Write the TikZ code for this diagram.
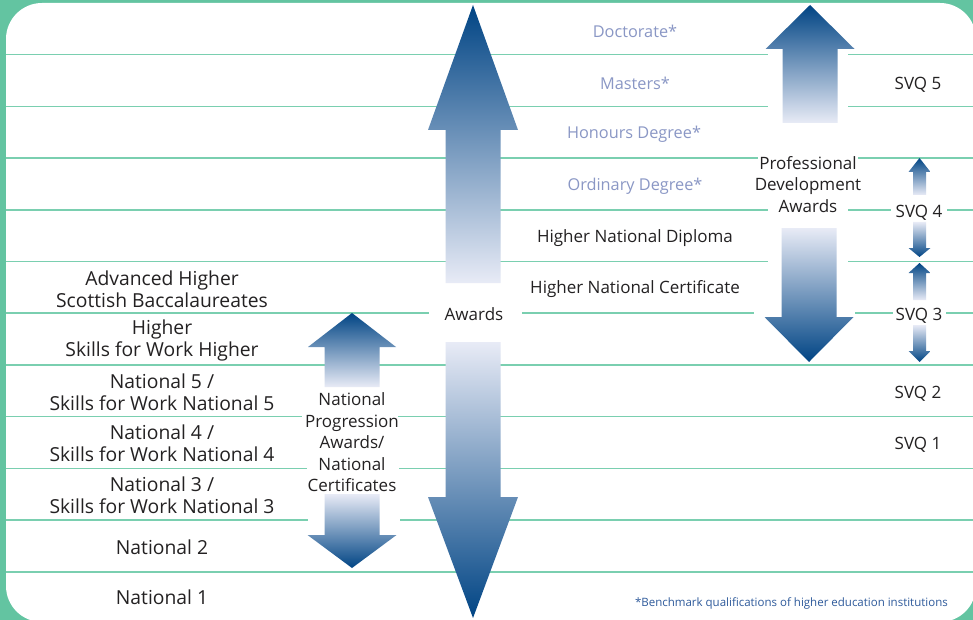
\documentclass[tikz,border=0pt]{standalone}
\usepackage{fontspec}
\setmainfont{Open Sans}
\usepackage{tikz}
\definecolor{frame}{RGB}{99,196,161}
\definecolor{rule}{RGB}{122,207,176}
\definecolor{navy}{RGB}{0,68,132}
\definecolor{pale}{RGB}{232,235,246}
\definecolor{ink}{RGB}{35,33,34}
\definecolor{lilac}{RGB}{138,151,197}
\definecolor{note}{RGB}{46,90,155}

% block arrow: x, tip y, head base y, shaft end y, half head, half shaft, shading
\newcommand{\blockarrow}[7]{%
  \shade[#7] ({#1},{#2}) -- ({#1+#5},{#3}) -- ({#1+#6},{#3}) -- ({#1+#6},{#4})
    -- ({#1-#6},{#4}) -- ({#1-#6},{#3}) -- ({#1-#5},{#3}) -- cycle;}

\begin{document}
\begin{tikzpicture}[
  x=1pt, y=-1pt,
  level/.style={font=\fontsize{17}{21.5}\selectfont, text=ink, align=center, inner sep=0pt},
  school/.style={level, font=\fontsize{19.3}{22}\selectfont},
  grad/.style={level, font=\fontsize{16.3}{20}\selectfont, text=lilac},
  rung/.style={rule, line width=1.6pt},
  rising/.style={top color=navy, bottom color=pale},
  falling/.style={top color=pale, bottom color=navy},
  ]
  \useasboundingbox (0,0) rectangle (973,620);
  % frame
  \fill[frame] (0,0) rectangle (973,620);
  \fill[white, rounded corners=36pt] (6,3) rectangle (976,622);

  % level lines
  \draw[rung] (6,54.7) -- (768,54.7) (848,54.7) -- (976,54.7);
  \draw[rung] (6,106.4) -- (768,106.4) (848,106.4) -- (976,106.4);
  \draw[rung] (6,158.1) -- (758,158.1) (858,158.1) -- (976,158.1);
  \draw[rung] (6,209.8) -- (768,209.8) (848,209.8) -- (891,209.8) (947,209.8) -- (976,209.8);
  \draw[rung] (6,261.5) -- (768,261.5) (848,261.5) -- (976,261.5);
  \draw[rung] (6,313.2) -- (429,313.2) (522,313.2) -- (754,313.2)
    (855,313.2) -- (893,313.2) (946,313.2) -- (976,313.2);
  \draw[rung] (6,364.9) -- (976,364.9);
  \draw[rung] (6,416.6) -- (302,416.6) (398,416.6) -- (976,416.6);
  \draw[rung] (6,468.3) -- (307,468.3) (399,468.3) -- (976,468.3);
  \draw[rung] (6,520) -- (308,520) (400,520) -- (976,520);
  \draw[rung] (6,571.7) -- (976,571.7);

  % arrows
  \blockarrow{473}{5}{130}{283}{45}{27.5}{rising}
  \blockarrow{473}{618}{497}{342}{45}{27.5}{falling}
  \blockarrow{352}{313}{347}{387}{44}{27.5}{rising}
  \blockarrow{352}{568}{535}{494}{44.5}{27.5}{falling}
  \blockarrow{810}{5}{49}{123}{44.5}{27.5}{rising}
  \blockarrow{809}{362}{317}{228}{44.5}{27.5}{falling}
  \foreach \tip/\base/\shaft in {158/172/195, 263/273/300} {
    \blockarrow{919.5}{\tip}{\base}{\shaft}{11}{6.5}{rising}
  }
  \foreach \tip/\base/\shaft in {257/248/222, 362/351/325} {
    \blockarrow{919.5}{\tip}{\base}{\shaft}{11}{6.5}{falling}
  }

  % higher education
  \node[grad] (doctorate) at (635,31) {Doctorate*};
  \node[grad] (masters) at (635,83) {Masters*};
  \node[grad] (honours) at (634,134.5) {Honours Degree*};
  \node[grad] (ordinary) at (635,186) {Ordinary Degree*};
  \node[level] (hnd) at (635,238) {Higher National Diploma};
  \node[level] (hnc) at (635,289.5) {Higher National Certificate};

  % school
  \node[school] (advhigher) at (162,289) {Advanced Higher\\Scottish Baccalaureates};
  \node[school] (higher) at (162,340.5) {Higher\\Skills for Work Higher};
  \node[school] (nat5) at (162,392) {National 5 /\\Skills for Work National 5};
  \node[school] (nat4) at (162,443.5) {National 4 /\\Skills for Work National 4};
  \node[school] (nat3) at (162,495) {National 3 /\\Skills for Work National 3};
  \node[school] (nat2) at (162,547.5) {National 2};
  \node[school] (nat1) at (162,597.5) {National 1};

  % SVQs
  \node[level] (svq5) at (918,84.5) {SVQ 5};
  \node[level] (svq4) at (919,212.5) {SVQ 4};
  \node[level] (svq3) at (919,315.5) {SVQ 3};
  \node[level] (svq2) at (918,393.5) {SVQ 2};
  \node[level] (svq1) at (918,445) {SVQ 1};

  % arrow labels
  \node[level] (awards) at (474,314.5) {Awards};
  \node[level] (pda) at (808,184.5) {Professional\\Development\\Awards};
  \node[level] (npa) at (352,442.5) {National\\Progression\\Awards/\\National\\Certificates};

  \node[font=\fontsize{11.5}{13}\selectfont, text=note, anchor=east, inner sep=0pt]
    (benchmark) at (948,603) {*Benchmark qualifications of higher education institutions};
\end{tikzpicture}
\end{document}
